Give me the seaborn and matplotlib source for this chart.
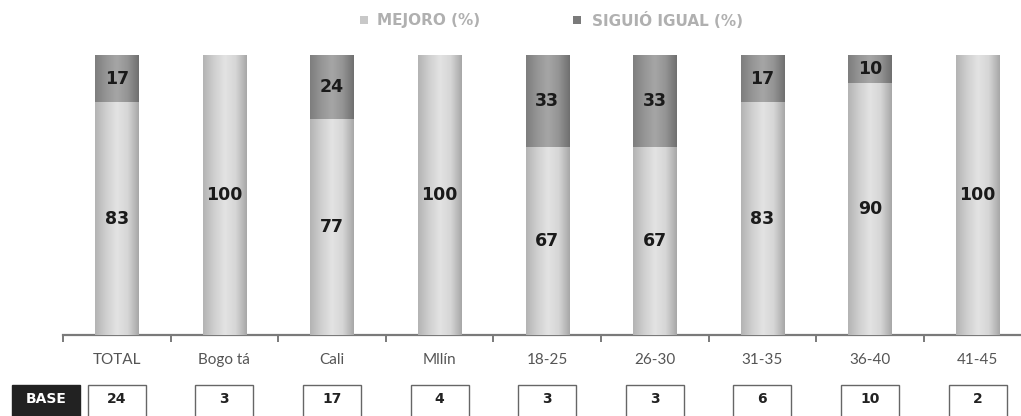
import numpy as np
import pandas as pd
import matplotlib
matplotlib.use("Agg")
import matplotlib.pyplot as plt
import matplotlib.transforms as mtransforms
from matplotlib.colors import LinearSegmentedColormap
from matplotlib.patches import Rectangle
import seaborn as sns

categories = ["TOTAL", "Bogotá", "Cali", "Mllín", "18-25", "26-30", "31-35", "36-40", "41-45"]
tick_labels = ["TOTAL", "Bogo tá", "Cali", "Mllín", "18-25", "26-30", "31-35", "36-40", "41-45"]
mejoro = [83, 100, 77, 100, 67, 67, 83, 90, 100]
siguio = [17, 0, 24, 0, 33, 33, 17, 10, 0]
base = [24, 3, 17, 4, 3, 3, 6, 10, 2]
series_names = ["MEJORO (%)", "SIGUIÓ IGUAL (%)"]

sns.set_theme(style="white")
plt.rcParams['font.family'] = ['DejaVu Sans']

W, H = 1021, 416
fig = plt.figure(figsize=(W / 100, H / 100), dpi=100)
ax_left = 63 / W
ax_bottom = (H - 335) / H
ax_w = 9 * 107.6 / W
ax_h = 280 / H
ax = fig.add_axes([ax_left, ax_bottom, ax_w, ax_h])

df = pd.DataFrame({"cat": categories, "mejoro": mejoro, "siguio": siguio})
df["total"] = df["mejoro"] + df["siguio"]

sns.barplot(data=df, x="cat", y="total", color="#8c8c8c", width=0.4, ax=ax, saturation=1, order=categories)
n_dark = len(ax.patches)
sns.barplot(data=df, x="cat", y="mejoro", color="#d0d0d0", width=0.4, ax=ax, saturation=1, order=categories)

light_cmap = LinearSegmentedColormap.from_list("l", ["#b4b4b4", "#cfcfcf", "#e3e3e3", "#d6d6d6", "#a8a8a8"])
dark_cmap = LinearSegmentedColormap.from_list("d", ["#7e7e7e", "#959595", "#a6a6a6", "#949494", "#707070"])
grad = np.linspace(0, 1, 64).reshape(1, -1)
for i, p in enumerate(list(ax.patches)):
    x, y = p.get_x(), p.get_y()
    w, h = p.get_width(), p.get_height()
    if h <= 0:
        continue
    cmap = dark_cmap if i < n_dark else light_cmap
    ax.imshow(grad, cmap=cmap, extent=[x, x + w, y, y + h], aspect="auto",
              zorder=2 + (1 if i >= n_dark else 0), interpolation="bilinear")
    p.set_visible(False)

ax.set_xlim(-0.5, 8.5)
ax.set_ylim(0, 100)

# value labels
for i, (m, s) in enumerate(zip(mejoro, siguio)):
    ax.text(i, m / 2, f"{m}", ha="center", va="center", fontsize=12.5,
            fontweight="bold", color="#1a1a1a", zorder=5)
    if s > 0:
        ax.text(i, m + (100 - m) / 2, f"{s}", ha="center", va="center", fontsize=12.5,
                fontweight="bold", color="#1a1a1a", zorder=5)

for sp in ["top", "right", "left"]:
    ax.spines[sp].set_visible(False)
ax.spines["bottom"].set_color("#7a7a7a")
ax.spines["bottom"].set_linewidth(1.6)
ax.set_yticks([])
ax.set_xlabel("")
ax.set_ylabel("")
ax.set_xticks(range(len(categories)))
ax.set_xticklabels(tick_labels, family="Lato", fontsize=11, color="#555555")
ax.set_xticks(np.arange(-0.5, 9.0, 1.0), minor=True)
ax.tick_params(axis="x", which="major", length=0, pad=13)
ax.tick_params(axis="x", which="minor", length=5, width=1.4, color="#7a7a7a", direction="out", bottom=True)

# base row
trans = mtransforms.blended_transform_factory(ax.transData, fig.transFigure)
by0 = -0.05
btop = (H - 385) / H
bw = 58 / 107.6
for i, b in enumerate(base):
    r = Rectangle((i - bw / 2, by0), bw, btop - by0, transform=trans, facecolor="white",
                  edgecolor="#666666", linewidth=1.0, clip_on=False, zorder=1)
    ax.add_patch(r)
    ax.text(i, (H - 399) / H, f"{b}", transform=trans, ha="center", va="center",
            fontsize=10, fontweight="bold", color="#222222", clip_on=False, zorder=6)

fig.add_artist(Rectangle((12 / W, by0), 68 / W, btop - by0, transform=fig.transFigure,
                         facecolor="#222222", edgecolor="#222222", clip_on=False))
fig.text(46 / W, (H - 399) / H, "BASE", ha="center", va="center", fontsize=10,
         fontweight="bold", color="white")

# legend
leg_y = (H - 20) / H
fig.add_artist(Rectangle((360 / W, (H - 24) / H), 8 / W, 8 / H, transform=fig.transFigure,
                         facecolor="#c8c8c8", edgecolor="none"))
fig.text(377 / W, leg_y, series_names[0], ha="left", va="center", fontsize=11,
         fontweight="bold", color="#b0b0b0")
fig.add_artist(Rectangle((573 / W, (H - 24) / H), 8 / W, 8 / H, transform=fig.transFigure,
                         facecolor="#7a7a7a", edgecolor="none"))
fig.text(592 / W, leg_y, series_names[1], ha="left", va="center", fontsize=11,
         fontweight="bold", color="#b0b0b0")

fig.savefig("out.png", dpi=100)
